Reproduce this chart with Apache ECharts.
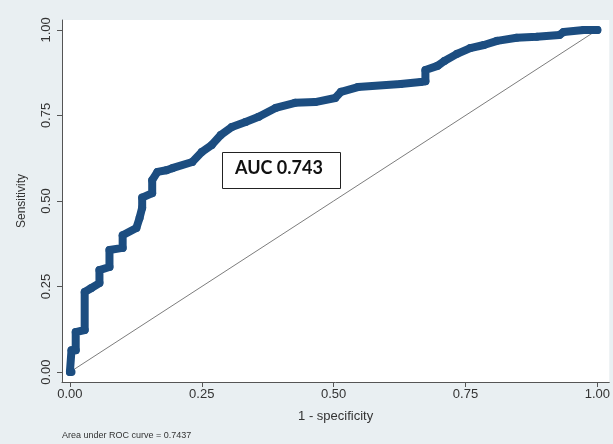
<!DOCTYPE html>
<html>
<head>
<meta charset="utf-8">
<script src="https://cdn.jsdelivr.net/npm/echarts@6/dist/echarts.min.js"></script>
<style>
html,body{margin:0;padding:0;background:#e9eff2;}
#c{width:613px;height:444px;}
</style>
</head>
<body>
<div id="c"></div>
<script>
// 1 - specificity values (x) of the ROC curve
const fpr = [0, 0.003, 0.003, 0.011, 0.011, 0.028, 0.028, 0.040, 0.056, 0.056, 0.075, 0.075, 0.100, 0.100, 0.126, 0.132, 0.137, 0.137, 0.156, 0.156, 0.166, 0.183, 0.194, 0.232, 0.250, 0.269, 0.286, 0.307, 0.333, 0.358, 0.390, 0.427, 0.465, 0.503, 0.514, 0.546, 0.627, 0.665, 0.674, 0.674, 0.697, 0.710, 0.734, 0.759, 0.785, 0.810, 0.847, 0.885, 0.928, 0.936, 0.974, 1.0];
// sensitivity values (y) of the ROC curve
const tpr = [0, 0, 0.064, 0.064, 0.117, 0.123, 0.234, 0.245, 0.260, 0.298, 0.307, 0.357, 0.363, 0.400, 0.421, 0.450, 0.480, 0.510, 0.523, 0.561, 0.585, 0.590, 0.596, 0.614, 0.643, 0.664, 0.693, 0.716, 0.731, 0.746, 0.772, 0.787, 0.789, 0.801, 0.819, 0.833, 0.842, 0.848, 0.850, 0.883, 0.895, 0.909, 0.930, 0.947, 0.956, 0.968, 0.977, 0.980, 0.985, 0.994, 1.0, 1.0];
const refLine = [[0, 0], [1, 1]];
const xTicks = [0, 0.25, 0.5, 0.75, 1];
const yTicks = [0, 0.25, 0.5, 0.75, 1];
const xTitle = '1 - specificity';
const yTitle = 'Sensitivity';
const note = 'Area under ROC curve = 0.7437';
const aucLabel = 'AUC 0.743';

const roc = fpr.map((x, i) => [x, tpr[i]]);
const chart = echarts.init(document.getElementById('c'), null, {renderer: 'canvas'});
const lab = {color: '#333', fontFamily: 'Liberation Sans, Arial, sans-serif', fontSize: 13};
chart.setOption({
  backgroundColor: '#e9eff2',
  animation: false,
  grid: {left: 62, right: 0, top: 20, bottom: 62, show: true, backgroundColor: '#ffffff', borderWidth: 0},
  xAxis: {
    type: 'value', min: -0.015, max: 1.0226,
    name: xTitle, nameLocation: 'middle', nameGap: 28,
    nameTextStyle: Object.assign({}, lab, {fontSize: 13}),
    axisLine: {show: true, onZero: false, lineStyle: {color: '#555', width: 1}},
    axisTick: {show: true, length: 5, customValues: xTicks, lineStyle: {color: '#555'}},
    axisLabel: Object.assign({}, lab, {margin: 6, customValues: xTicks, formatter: v => v.toFixed(2)}),
    splitLine: {show: false}
  },
  yAxis: {
    type: 'value', min: -0.029, max: 1.029,
    name: yTitle, nameLocation: 'middle', nameGap: 34,
    nameTextStyle: Object.assign({}, lab, {fontSize: 12}),
    axisLine: {show: true, onZero: false, lineStyle: {color: '#555', width: 1}},
    axisTick: {show: true, length: 5, customValues: yTicks, lineStyle: {color: '#555'}},
    axisLabel: Object.assign({}, lab, {margin: 9, rotate: 90, customValues: yTicks, formatter: v => v.toFixed(2)}),
    splitLine: {show: false}
  },
  series: [
    {type: 'line', data: refLine, symbol: 'none', lineStyle: {color: '#7d7d7d', width: 1}, z: 1},
    {type: 'line', data: roc, symbol: 'circle', symbolSize: 8, itemStyle: {color: '#1c4d80'},
     lineStyle: {color: '#1c4d80', width: 8, cap: 'round', join: 'round'}, z: 2}
  ],
  graphic: [
    {type: 'rect', left: 222, top: 152, shape: {width: 118, height: 36},
     style: {fill: '#ffffff', stroke: '#222', lineWidth: 1}, z: 10},
    {type: 'text', left: 235, top: 159, z: 11,
     style: {text: aucLabel, font: 'bold 18px Lato, sans-serif', fill: '#111'}},
    {type: 'text', left: 62, top: 431, z: 11,
     style: {text: note, font: '9px "Liberation Sans", Arial, sans-serif', fill: '#333'}}
  ]
});
</script>
</body>
</html>
